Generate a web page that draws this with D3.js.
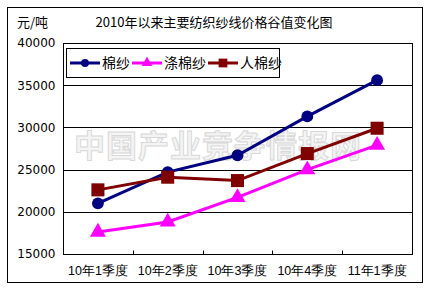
<!DOCTYPE html>
<html lang="zh">
<head>
  <meta charset="UTF-8">
  <title>纺织纱线价格谷值变化图</title>
  <style>
    body { margin: 0; background: #fff; }
    svg { display: block; font-family: "Noto Sans CJK SC", "DejaVu Sans", sans-serif; }
  </style>
</head>
<body>
  <script src="https://cdnjs.cloudflare.com/ajax/libs/d3/7.8.5/d3.min.js"></script>
  <svg></svg>
  <script>
    var categories = ['10年1季度', '10年2季度', '10年3季度', '10年4季度', '11年1季度'];
    var cotton = [21000, 24700, 26700, 31300, 35600];      // 棉纱
    var polyCotton = [17600, 18800, 21700, 25000, 27900];  // 涤棉纱
    var rayon = [22600, 24100, 23700, 26900, 29900];       // 人棉纱
    var yTicks = [15000, 20000, 25000, 30000, 35000, 40000];

    var width = 436, height = 295;
    var plot = {left: 63, right: 412, top: 43, bottom: 254};

    var svg = d3.select('svg')
                .attr('width', width)
                .attr('height', height);

    // outer frame
    svg.append('rect')
      .attr('x', 7.5).attr('y', 7.5)
      .attr('width', 415).attr('height', 275)
      .attr('fill', '#fff').attr('stroke', '#000');

    var x = d3.scaleBand()
              .domain(categories)
              .range([plot.left, plot.right]);
    var y = d3.scaleLinear()
              .domain([15000, 40000])
              .range([plot.bottom, plot.top]);

    // plot area
    svg.append('rect')
      .attr('x', plot.left + 0.5).attr('y', plot.top + 0.5)
      .attr('width', plot.right - plot.left).attr('height', plot.bottom - plot.top)
      .attr('fill', '#fff').attr('stroke', '#000');

    // gridlines
    svg.append('g')
      .selectAll('line')
      .data(yTicks.slice(1, -1))
      .enter()
      .append('line')
        .attr('x1', plot.left).attr('x2', plot.right)
        .attr('y1', function(d) { return Math.round(y(d)) + 0.5; })
        .attr('y2', function(d) { return Math.round(y(d)) + 0.5; })
        .attr('stroke', '#000');

    // watermark
    svg.append('text')
      .attr('x', 218).attr('y', 157)
      .attr('text-anchor', 'middle')
      .attr('font-size', 31)
      .attr('font-weight', 'bold')
      .attr('letter-spacing', 1)
      .attr('fill', '#f4f4f4')
      .attr('stroke', '#d8d8d8')
      .attr('stroke-width', 1)
      .text('中国产业竞争情报网');

    // y axis
    var yAxis = svg.append('g')
      .attr('transform', 'translate(' + (plot.left + 0.5) + ',0)')
      .call(d3.axisLeft(y).tickValues(yTicks).tickSize(0).tickPadding(8).tickFormat(d3.format('d')));
    yAxis.select('.domain').remove();
    yAxis.selectAll('text').attr('font-size', 12).attr('fill', '#000')
      .attr('font-family', '"DejaVu Sans", sans-serif');

    // x axis
    var xAxis = svg.append('g')
      .attr('transform', 'translate(0,' + (plot.bottom + 0.5) + ')')
      .call(d3.axisBottom(x).tickSize(0).tickPadding(12));
    xAxis.select('.domain').remove();
    xAxis.selectAll('text').attr('font-size', 12.5).attr('fill', '#000');
    xAxis.selectAll('.tick-mark')
      .data(categories.slice(1))
      .enter()
      .append('line')
        .attr('x1', function(d) { return Math.round(x(d)) + 0.5; })
        .attr('x2', function(d) { return Math.round(x(d)) + 0.5; })
        .attr('y1', 0).attr('y2', -4)
        .attr('stroke', '#000');

    var series = [
      {name: '棉纱', values: cotton, color: '#000080', shape: d3.symbolCircle, size: 110},
      {name: '涤棉纱', values: polyCotton, color: '#ff00ff', shape: d3.symbolTriangle, size: 110},
      {name: '人棉纱', values: rayon, color: '#800000', shape: d3.symbolSquare, size: 170}
    ];

    var line = d3.line()
      .x(function(d, i) { return x(categories[i]) + x.bandwidth() / 2; })
      .y(function(d) { return y(d); });

    series.forEach(function(s) {
      svg.append('path')
        .datum(s.values)
        .attr('d', line)
        .attr('fill', 'none')
        .attr('stroke', s.color)
        .attr('stroke-width', 3);
      svg.append('g')
        .selectAll('path')
        .data(s.values)
        .enter()
        .append('path')
          .attr('transform', function(d, i) {
            return 'translate(' + (x(categories[i]) + x.bandwidth() / 2) + ',' + y(d) + ')';
          })
          .attr('d', d3.symbol().type(s.shape).size(s.size))
          .attr('fill', s.color);
    });

    // legend
    var legend = svg.append('g');
    legend.append('rect')
      .attr('x', 66.5).attr('y', 48.5)
      .attr('width', 213).attr('height', 29)
      .attr('fill', '#fff').attr('stroke', '#000');
    var legendX = [70, 132, 208];
    series.forEach(function(s, i) {
      var g = legend.append('g').attr('transform', 'translate(' + legendX[i] + ',63)');
      g.append('line').attr('x1', 0).attr('x2', 30).attr('stroke', s.color).attr('stroke-width', 3);
      g.append('path').attr('transform', 'translate(15,0)')
        .attr('d', d3.symbol().type(s.shape).size(s.size * 0.45)).attr('fill', s.color);
      g.append('text').attr('x', 32).attr('y', 5).attr('font-size', 14).text(s.name);
    });

    // title and unit
    svg.append('text')
      .attr('x', 214).attr('y', 27)
      .attr('text-anchor', 'middle')
      .attr('font-size', 13)
      .text('2010年以来主要纺织纱线价格谷值变化图');
    svg.append('text')
      .attr('x', 17).attr('y', 27)
      .attr('font-size', 13)
      .text('元/吨');
  </script>
</body>
</html>
